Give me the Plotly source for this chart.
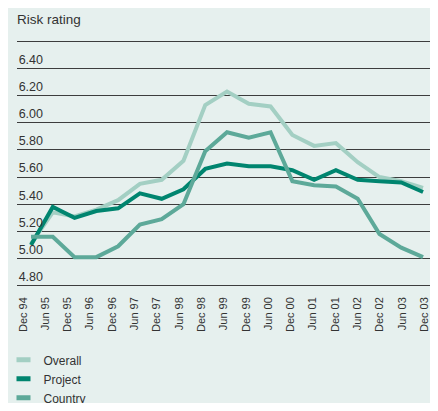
import plotly.graph_objects as go

periods = ["Dec 94", "Jun 95", "Dec 95", "Jun 96", "Dec 96", "Jun 97", "Dec 97", "Jun 98",
           "Dec 98", "Jun 99", "Dec 99", "Jun 00", "Dec 00", "Jun 01", "Dec 01", "Jun 02",
           "Dec 02", "Jun 03", "Dec 03"]

overall = [5.11, 5.34, 5.31, 5.36, 5.43, 5.55, 5.58, 5.72, 6.13, 6.23, 6.14, 6.12,
           5.91, 5.83, 5.85, 5.71, 5.60, 5.57, 5.52]
project = [5.10, 5.38, 5.30, 5.35, 5.37, 5.48, 5.44, 5.51, 5.66, 5.70, 5.68, 5.68,
           5.65, 5.58, 5.65, 5.58, 5.57, 5.56, 5.49]
country = [5.16, 5.16, 5.01, 5.01, 5.09, 5.25, 5.29, 5.40, 5.79, 5.93, 5.89, 5.93,
           5.57, 5.54, 5.53, 5.44, 5.18, 5.08, 5.01]

ytick_vals = [4.8, 5.0, 5.2, 5.4, 5.6, 5.8, 6.0, 6.2, 6.4, 6.6]
ytick_text = ["4.80", "5.00", "5.20", "5.40", "5.60", "5.80", "6.00", "6.20", "6.40", ""]

series = [("Overall", overall, "#a3cfc3"),
          ("Project", project, "#00856f"),
          ("Country", country, "#5da999")]

font_main = "Liberation Sans, Arial, sans-serif"
bg = "#e6f0ee"
txt = "#333333"

fig = go.Figure()

for name, vals, col in series:
    fig.add_trace(go.Scatter(x=periods, y=vals, mode="lines", name=name,
                             line=dict(color=col, width=4), showlegend=False))

# legend keys: short thick bars
for name, vals, col in series:
    fig.add_trace(go.Scatter(x=[None], y=[None], mode="markers", name=name,
                             marker=dict(symbol="line-ew", size=10, color=col,
                                         line=dict(color=col, width=5))))

# tick labels sit on a slightly wider spacing than the points in the original
fig.add_trace(go.Scatter(x=periods, y=[None] * len(periods), xaxis="x2",
                         mode="lines", showlegend=False, hoverinfo="skip"))

# page body has an 8px margin, so the figure is sized to fit inside it
fig.update_layout(
    width=422, height=395,
    paper_bgcolor=bg, plot_bgcolor=bg,
    margin=dict(l=9, r=0, t=32, b=116, autoexpand=False),
    font=dict(family=font_main, color=txt),
    title=dict(text="Risk rating", x=0.0213, xref="container", xanchor="left",
               y=0.972, yref="container", yanchor="middle",
               font=dict(size=13.5, color=txt)),
    legend=dict(xref="paper", yref="container", x=-0.0327, y=0.146,
                xanchor="left", yanchor="top", bgcolor="rgba(0,0,0,0)",
                font=dict(size=12, color=txt), tracegroupgap=0),
    showlegend=True,
    xaxis=dict(type="category", range=[-0.643, 18.32], showgrid=False,
               zeroline=False, showline=False, ticks="", showticklabels=False),
    xaxis2=dict(type="category", overlaying="x", anchor="y", side="bottom",
                range=[-0.269, 18.251], showgrid=False, zeroline=False,
                showline=False, ticks="", tickangle=-90, dtick=1,
                ticklabelstandoff=7, ticklabeloverflow="allow",
                tickfont=dict(size=11, color=txt)),
)

fig.update_yaxes(range=[4.79, 6.61], tickvals=ytick_vals, ticktext=ytick_text,
                 showgrid=True, gridcolor="#3d3d3d", gridwidth=1.3, zeroline=False,
                 showline=False, ticks="", ticklabelposition="outside",
                 ticklabelstandoff=-27, ticklabelshift=-9,
                 tickfont=dict(size=12.5, color=txt))

fig.write_html("out.html")
